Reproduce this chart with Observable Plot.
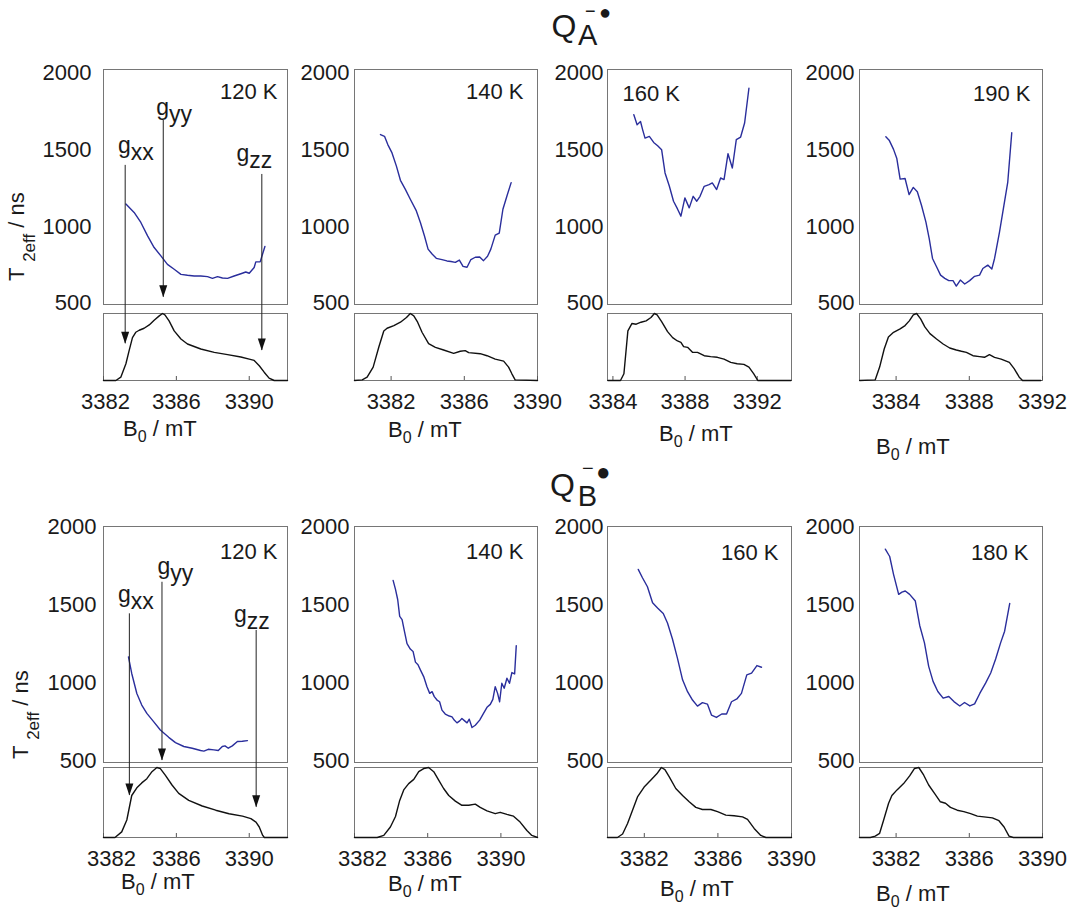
<!DOCTYPE html>
<html><head><meta charset="utf-8">
<script src="https://cdn.jsdelivr.net/npm/d3@7"></script>
<script src="https://cdn.jsdelivr.net/npm/@observablehq/plot@0.6"></script>
<style>
body{margin:0;background:#fff;}
#fig{position:relative;width:1077px;height:910px;overflow:hidden;font-family:"Liberation Sans",Arial,sans-serif;color:#1a1a1a;background:#fff;}
#fig svg{position:absolute;}
.lbl{position:absolute;white-space:nowrap;line-height:1;font-size:22px;}
</style></head><body><div id="fig"></div>
<script>
// ---------------- data ----------------
const yTicks = [500, 1000, 1500, 2000];
const temps = ["120 K", "140 K", "160 K", "190 K", "120 K", "140 K", "160 K", "180 K"];
const xTicks = [[3382,3386,3390],[3382,3386,3390],[3384,3388,3392],[3384,3388,3392],
                [3382,3386,3390],[3382,3386,3390],[3382,3386,3390],[3382,3386,3390]];
const xDomains = [[3382,3392.1],[3380,3390],[3383.7,3393.9],[3382,3392],
                  [3382,3392.1],[3382,3392],[3380,3390],[3380,3390]];

// Q_A, 120 K
const fieldA120 = [3383.23,3383.68,3384.05,3384.42,3384.78,3385.15,3385.51,3385.88,3386.25,3386.61,3386.98,3387.34,3387.71,3387.98,3388.26,3388.53,3388.81,3389.17,3389.54,3389.81,3390.0,3390.27,3390.36,3390.6,3390.86];
const t2A120 = [1146,1091,1026,939,863,809,754,722,689,683,678,678,674,663,674,665,663,678,693,704,696,733,770,770,870];
const specFieldA120 = [3382.0,3382.68,3382.95,3383.23,3383.41,3383.59,3383.77,3383.96,3384.23,3384.51,3384.78,3385.06,3385.24,3385.37,3385.6,3385.88,3386.25,3386.61,3387.34,3388.08,3388.81,3389.54,3390.0,3390.27,3390.55,3390.82,3391.09,3391.37,3392.1];
const specA120 = [0,0,0.05,0.25,0.45,0.64,0.72,0.75,0.78,0.83,0.90,0.965,1.0,0.98,0.89,0.74,0.62,0.545,0.47,0.42,0.386,0.35,0.32,0.30,0.22,0.124,0.035,0,0];

// Q_A, 140 K
const fieldA140 = [3381.42,3381.64,3381.82,3382.05,3382.29,3382.51,3382.78,3383.05,3383.38,3383.6,3383.82,3384.02,3384.24,3384.47,3384.78,3385.05,3385.27,3385.51,3385.73,3385.93,3386.15,3386.36,3386.6,3386.84,3387.05,3387.27,3387.45,3387.69,3387.91,3388.11,3388.33,3388.56];
const t2A140 = [1597,1586,1532,1478,1392,1300,1241,1177,1101,1026,940,853,821,793,785,776,772,767,782,741,735,785,800,802,778,806,853,944,957,1112,1198,1285];
const specFieldA140 = [3380,3380.42,3380.69,3381.02,3381.33,3381.6,3381.78,3382.15,3382.51,3382.84,3383.05,3383.24,3383.45,3383.69,3384.05,3384.42,3384.87,3385.42,3385.78,3386.05,3386.24,3386.87,3387.24,3387.69,3388.15,3388.42,3388.6,3388.78,3390.0];
const specA140 = [0,0.01,0.05,0.2,0.5,0.74,0.78,0.82,0.87,0.94,1.0,0.965,0.87,0.72,0.55,0.495,0.455,0.406,0.436,0.446,0.416,0.4,0.37,0.32,0.29,0.2,0.1,0.01,0];

// Q_A, 160 K
const fieldA160 = [3385.16,3385.34,3385.53,3385.65,3385.78,3386.02,3386.26,3386.48,3386.7,3386.89,3387.13,3387.36,3387.58,3387.77,3387.99,3388.23,3388.45,3388.65,3388.83,3389.06,3389.33,3389.51,3389.75,3389.97,3390.16,3390.38,3390.62,3390.84,3391.08,3391.3,3391.54];
const t2A160 = [1726,1661,1682,1628,1574,1585,1546,1525,1499,1348,1261,1164,1114,1067,1186,1121,1196,1164,1196,1261,1272,1283,1240,1315,1305,1473,1380,1564,1581,1672,1898];
const specFieldA160 = [3383.72,3384.42,3384.61,3384.83,3385.05,3385.29,3385.56,3385.84,3386.11,3386.3,3386.45,3386.7,3387.03,3387.31,3387.58,3387.77,3387.92,3388.14,3388.41,3388.69,3389.06,3389.42,3389.79,3390.16,3390.53,3390.89,3391.26,3391.54,3391.81,3392.03,3393.87];
const specA160 = [0,0,0.1,0.74,0.85,0.84,0.87,0.89,0.94,1.0,0.98,0.88,0.73,0.64,0.59,0.57,0.505,0.495,0.42,0.42,0.37,0.356,0.346,0.32,0.27,0.25,0.24,0.2,0.1,0,0];

// Q_A, 190 K
const fieldA190 = [3383.44,3383.62,3383.86,3384.04,3384.22,3384.49,3384.71,3384.94,3385.16,3385.39,3385.63,3385.81,3385.99,3386.21,3386.43,3386.66,3386.88,3387.11,3387.29,3387.51,3387.75,3388.02,3388.29,3388.56,3388.74,3389.01,3389.23,3389.38,3389.65,3389.86,3390.1,3390.32];
const t2A190 = [1583,1561,1501,1441,1308,1312,1207,1254,1226,1136,1028,921,792,738,684,663,648,648,613,652,626,648,676,684,727,749,723,792,964,1114,1286,1609];
const specFieldA190 = [3382.01,3382.86,3383.1,3383.35,3383.58,3383.86,3384.22,3384.49,3384.72,3384.94,3385.12,3385.34,3385.57,3385.85,3386.21,3386.57,3386.93,3387.29,3387.57,3387.84,3388.2,3388.56,3388.83,3389.1,3389.38,3389.74,3390.19,3390.46,3390.73,3390.91,3391.91];
const specA190 = [0,0.01,0.2,0.47,0.65,0.72,0.77,0.82,0.89,0.98,1.0,0.92,0.8,0.70,0.62,0.545,0.485,0.455,0.436,0.42,0.37,0.356,0.346,0.386,0.346,0.32,0.27,0.173,0.05,0,0];

// Q_B, 120 K
const fieldB120 = [3383.37,3383.55,3383.83,3384.1,3384.38,3384.75,3385.12,3385.58,3385.95,3386.41,3386.87,3387.33,3387.51,3387.75,3388.06,3388.3,3388.52,3388.67,3388.85,3389.07,3389.35,3389.62,3389.9];
const t2B120 = [1167,1060,931,857,803,750,696,649,615,590,579,564,560,572,568,564,590,594,579,594,622,624,628];
const specFieldB120 = [3382.0,3382.63,3383.0,3383.28,3383.55,3383.83,3384.1,3384.38,3384.66,3384.93,3385.12,3385.39,3385.76,3386.13,3386.68,3387.42,3388.16,3388.89,3389.63,3390.09,3390.37,3390.55,3390.74,3390.83,3392.1];
const specB120 = [0,0,0.08,0.25,0.6,0.71,0.78,0.84,0.94,1.0,0.985,0.89,0.75,0.63,0.53,0.45,0.39,0.34,0.305,0.27,0.22,0.15,0.03,0,0];

// Q_B, 140 K
const fieldB140 = [3384.11,3384.24,3384.36,3384.47,3384.6,3384.73,3384.87,3385.05,3385.2,3385.33,3385.47,3385.6,3385.78,3385.96,3386.11,3386.24,3386.36,3386.51,3386.65,3386.78,3386.96,3387.18,3387.33,3387.45,3387.6,3387.75,3387.87,3388.02,3388.15,3388.27,3388.42,3388.6,3388.84,3389.05,3389.24,3389.42,3389.56,3389.69,3389.82,3389.93,3390.05,3390.18,3390.33,3390.47,3390.6,3390.75,3390.84];
const t2B140 = [1659,1601,1536,1428,1407,1331,1252,1217,1202,1133,1116,1083,1040,975,932,943,911,889,878,824,799,786,781,760,742,755,770,755,742,766,712,727,760,803,842,861,893,975,932,878,997,965,1029,997,1066,1057,1239];
const specFieldB140 = [3382.0,3383.24,3383.6,3383.96,3384.24,3384.47,3384.69,3384.96,3385.24,3385.51,3385.78,3386.05,3386.33,3386.6,3386.87,3387.15,3387.51,3387.87,3388.24,3388.6,3388.87,3389.24,3389.69,3389.96,3390.33,3390.69,3391.05,3391.42,3391.69,3392.0];
const specB140 = [0,0,0.03,0.15,0.3,0.53,0.68,0.77,0.83,0.94,0.985,1.0,0.94,0.82,0.7,0.6,0.52,0.46,0.46,0.476,0.43,0.38,0.34,0.36,0.33,0.305,0.22,0.1,0.03,0];

// Q_B, 160 K
const fieldB160 = [3381.67,3381.9,3382.17,3382.45,3382.72,3383.03,3383.26,3383.53,3383.8,3384.08,3384.35,3384.62,3384.89,3385.16,3385.43,3385.65,3385.92,3386.21,3386.47,3386.74,3387.03,3387.28,3387.57,3387.83,3388.12,3388.37];
const t2B160 = [1730,1676,1618,1515,1482,1446,1385,1282,1159,1019,943,889,850,872,863,792,777,799,799,878,896,932,1051,1062,1111,1100];
const specFieldB160 = [3380,3380.54,3380.82,3381.09,3381.36,3381.63,3381.99,3382.36,3382.68,3382.93,3383.12,3383.35,3383.71,3384.08,3384.44,3384.8,3385.16,3385.62,3385.98,3386.43,3386.88,3387.34,3387.61,3387.97,3388.33,3388.61,3390];
const specB160 = [0,0,0.05,0.2,0.39,0.58,0.72,0.82,0.91,1.0,0.97,0.87,0.7,0.6,0.51,0.43,0.4,0.4,0.37,0.32,0.31,0.295,0.26,0.13,0.03,0,0];

// Q_B, 180 K
const fieldB180 = [3381.41,3381.65,3381.86,3382.14,3382.32,3382.5,3382.74,3383.05,3383.29,3383.55,3383.78,3384.02,3384.28,3384.57,3384.88,3385.16,3385.48,3385.74,3386.03,3386.29,3386.58,3386.89,3387.17,3387.44,3387.71,3387.93,3388.21];
const t2B180 = [1860,1813,1698,1569,1584,1591,1569,1526,1369,1257,1106,1009,944,901,912,879,851,873,851,864,933,998,1063,1153,1257,1332,1511];
const specFieldB180 = [3380,3380.59,3380.86,3381.1,3381.32,3381.59,3381.77,3382.05,3382.41,3382.74,3383.0,3383.24,3383.51,3383.78,3384.1,3384.42,3384.7,3384.97,3385.34,3385.7,3386.07,3386.44,3386.8,3387.26,3387.62,3387.9,3388.17,3388.41,3390];
const specB180 = [0,0,0.02,0.06,0.25,0.49,0.6,0.68,0.77,0.88,0.985,1.0,0.89,0.75,0.63,0.51,0.49,0.43,0.39,0.37,0.34,0.305,0.295,0.28,0.24,0.15,0.02,0,0];

// g-tensor markers (120 K panels)
const gMain = ["g", "g", "g"];
const gSub = ["xx", "yy", "zz"];
const gArrowFieldA = [3383.19, 3385.28, 3390.69];
const gArrowTopA = [1397, 1689, 1338];
const gArrowTipA = [238, 540, 194];
const gLabelFieldA = [3383.5, 3385.6, 3390.0];
const gLabelYA = [1475, 1724, 1425];
const gArrowFieldB = [3383.42, 3385.21, 3390.38];
const gArrowTopB = [1444, 1647, 1337];
const gArrowTipB = [275, 500, 199];
const gLabelFieldB = [3383.5, 3385.67, 3389.87];
const gLabelYB = [1519, 1703, 1392];

// ---------------- layout ----------------
const series = [
  [fieldA120, t2A120, specFieldA120, specA120],
  [fieldA140, t2A140, specFieldA140, specA140],
  [fieldA160, t2A160, specFieldA160, specA160],
  [fieldA190, t2A190, specFieldA190, specA190],
  [fieldB120, t2B120, specFieldB120, specB120],
  [fieldB140, t2B140, specFieldB140, specB140],
  [fieldB160, t2B160, specFieldB160, specB160],
  [fieldB180, t2B180, specFieldB180, specB180]
];
const colL = [103, 354, 607, 859];
const colW = [184, 183, 184, 183];
const rowsL = [
  {ut: 69, uh: 235, st: 313, sh: 67, yd: [493, 2020]},
  {ut: 526, uh: 236, st: 767, sh: 70, yd: [487, 2006]}
];
const yPad = [12, 5, 4, 5, 7, 5, 4, 5];
const firstDx = [2, 0, 0, 0, 8, 8, 0, 0];
const tempPos = [
  ["top-right", -10, 14], ["top-right", -14, 14], ["top-left", 15, 16], ["top-right", -12, 16],
  ["top-right", -10, 17], ["top-right", -14, 17], ["top-right", -13, 18], ["top-right", -14, 18]
];
const FRAME = "#767676", BLUE = "#2a2e9c", INK = "#1a1a1a";
const FONT = "'Liberation Sans', Arial, sans-serif";
const FS = 22;
const fig = document.getElementById("fig");

function gRows(xs, tops, tips, lxs, lys) {
  return xs.map((x, i) => ({x, top: tops[i], tip: tips[i], lx: lxs[i], ly: lys[i], g: gMain[i], sub: gSub[i]}));
}
const arrowsA = gRows(gArrowFieldA, gArrowTopA, gArrowTipA, gLabelFieldA, gLabelYA);
const arrowsB = gRows(gArrowFieldB, gArrowTopB, gArrowTipB, gLabelFieldB, gLabelYB);

function place(el, left, top) {
  el.style.left = left + "px"; el.style.top = top + "px";
  fig.appendChild(el);
}
const baseStyle = {background: "none", overflow: "visible", fontFamily: FONT, fontSize: FS + "px", color: INK};

series.forEach(([f, v, sf, s], i) => {
  const r = rowsL[i < 4 ? 0 : 1], c = i % 4;
  const fl = colL[c], fw = colW[c];
  const tRows = f.map((x, k) => ({x, v: v[k]}));
  const sRows = sf.map((x, k) => ({x, s: s[k]}));

  // spectrum (lower) panel
  const spec = Plot.plot({
    width: fw + 20, height: r.sh + 45,
    marginLeft: 10, marginRight: 10, marginTop: 5, marginBottom: 40,
    style: baseStyle,
    x: {domain: xDomains[i], axis: null},
    y: {domain: [0, 1], axis: null},
    marks: [
      Plot.frame({stroke: FRAME}),
      Plot.tickX(xTicks[i], {x: d => d, insetTop: r.sh - 4, stroke: "#555"}),
      Plot.axisX(xTicks[i].slice(1), {tickSize: 0, tickPadding: 13, tickFormat: d => String(d), fontSize: FS, label: null}),
      Plot.axisX(xTicks[i].slice(0, 1), {tickSize: 0, tickPadding: 13, tickFormat: d => String(d), fontSize: FS, dx: firstDx[i], label: null}),
      Plot.line(sRows, {x: "x", y: "s", stroke: "#111", strokeWidth: 1.4})
    ]
  });
  place(spec, fl - 10, r.st - 5);

  // T2eff (upper) panel
  const tp = tempPos[i];
  const marks = [
    Plot.frame({stroke: FRAME}),
    Plot.axisY(yTicks, {tickSize: 0, tickPadding: yPad[i], tickFormat: d => String(d), fontSize: FS, label: null}),
    Plot.line(tRows, {x: "x", y: "v", stroke: BLUE, strokeWidth: 1.4}),
    Plot.text([temps[i]], {text: d => d, frameAnchor: tp[0], textAnchor: tp[0].endsWith("right") ? "end" : "start",
      lineAnchor: "top", dx: tp[1], dy: tp[2], fontSize: FS})
  ];
  const ar = i === 0 ? arrowsA : i === 4 ? arrowsB : null;
  if (ar) {
    marks.push(
      Plot.ruleX(ar, {x: "x", y1: "top", y2: "tip", stroke: "#222", strokeWidth: 1}),
      Plot.vector(ar, {x: "x", y: "tip", length: 12, r: 4, rotate: 180, anchor: "end", shape: "spike", fill: "#111", stroke: "none"}),
      Plot.text(ar, {x: "lx", y: "ly", text: "g", textAnchor: "end", lineAnchor: "bottom", fontSize: 23}),
      Plot.text(ar, {x: "lx", y: "ly", text: "sub", textAnchor: "start", lineAnchor: "bottom", dy: 7, fontSize: 23})
    );
  }
  const up = Plot.plot({
    width: fw + 80, height: r.uh + 80,
    marginLeft: 70, marginRight: 10, marginTop: 10, marginBottom: 70,
    style: baseStyle,
    x: {domain: xDomains[i], axis: null},
    y: {domain: r.yd, axis: null},
    marks
  });
  place(up, fl - 70, r.ut - 10);
});

// ---------------- text labels ----------------
function label(html, left, top, extra) {
  const d = document.createElement("div");
  d.className = "lbl";
  d.innerHTML = html;
  if (extra) Object.assign(d.style, extra);
  place(d, left, top);
  return d;
}
const bLabel = 'B<span style="font-size:16px;position:relative;top:6px">0</span> / mT';
[[123, 418], [388, 419], [659, 423], [876, 436], [121, 871], [388, 873], [660, 878], [876, 883]]
  .forEach(([x, y]) => label(bLabel, x, y));

const tLabel = 'T <span style="font-size:17px;position:relative;top:11px">2eff</span> / ns';
label(tLabel, 6, 281, {transformOrigin: "0 0", transform: "rotate(-90deg)"});
label(tLabel, 9.5, 759, {transformOrigin: "0 0", transform: "rotate(-90deg)"});

// titles Q_A^-• and Q_B^-•
label("Q", 551.5, 10.4, {fontSize: "32px"});
label("A", 578, 20.5, {fontSize: "29px"});
label("\u2212", 585, 1.6, {fontSize: "18px"});
label("\u25CF", 599, 1.7, {fontSize: "20px"});
label("Q", 550, 469, {fontSize: "32px"});
label("B", 577.7, 482.2, {fontSize: "29px"});
label("\u2212", 582, 458.3, {fontSize: "20px"});
label("\u25CF", 596, 459.5, {fontSize: "24px"});
</script></body></html>
